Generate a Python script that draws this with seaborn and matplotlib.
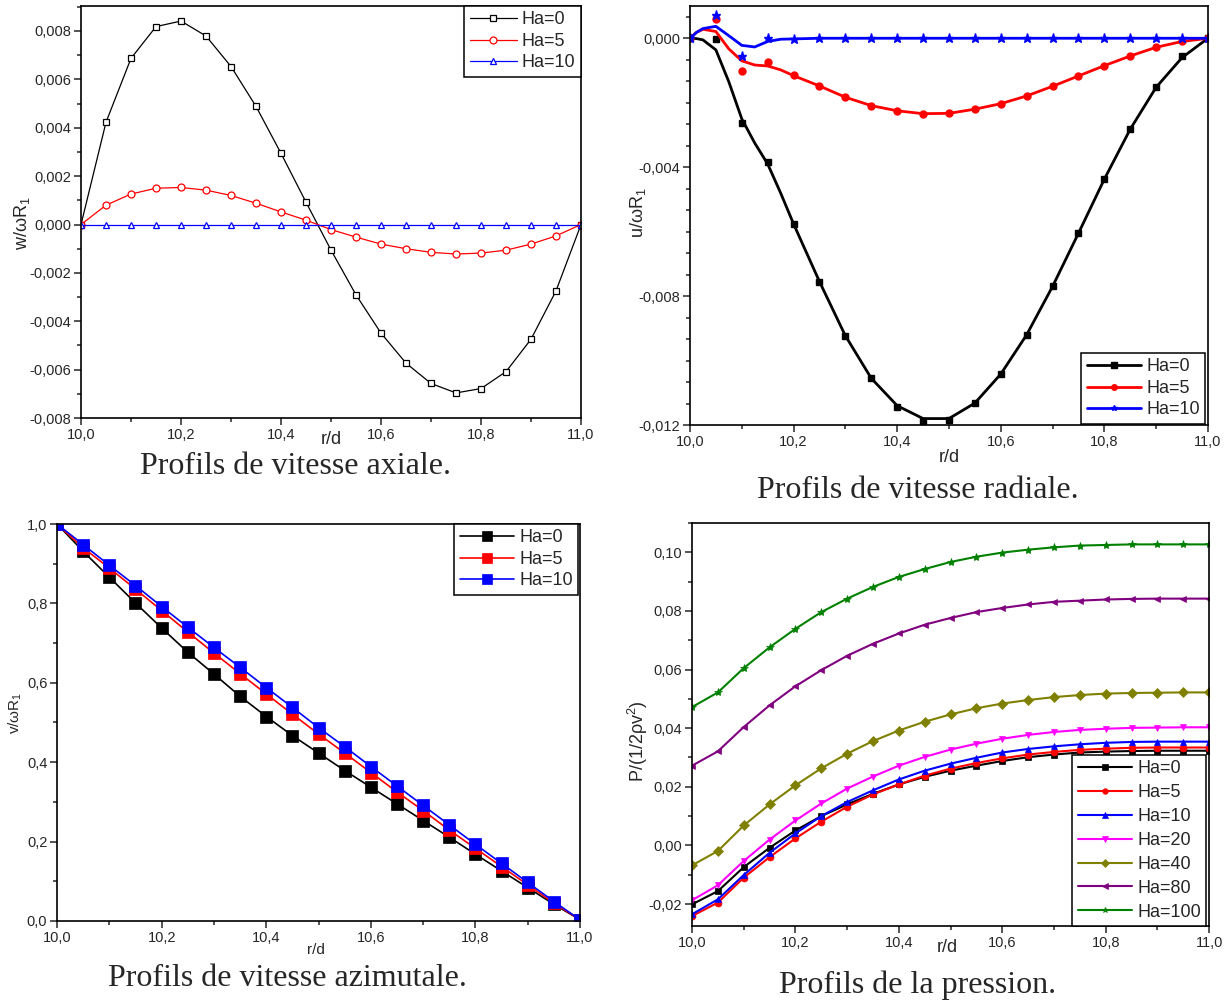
import seaborn as sns
import matplotlib
matplotlib.use("Agg")
import matplotlib.pyplot as plt
from matplotlib.ticker import MultipleLocator, FuncFormatter, AutoMinorLocator
from matplotlib.lines import Line2D

sns.set_style('ticks')
plt.rcParams['font.family'] = ['Liberation Sans', 'DejaVu Sans']
plt.rcParams['mathtext.fontset'] = 'custom'
plt.rcParams['mathtext.rm'] = 'Liberation Sans'
plt.rcParams['mathtext.it'] = 'Liberation Sans:italic'

# positions radiales r/d
r = [10.0, 10.05, 10.1, 10.15, 10.2, 10.25, 10.3, 10.35, 10.4, 10.45, 10.5,
     10.55, 10.6, 10.65, 10.7, 10.75, 10.8, 10.85, 10.9, 10.95, 11.0]

# vitesse axiale w/wR1 (x1e-3)
w_ha0 = [0, 4.23, 6.87, 8.18, 8.41, 7.79, 6.53, 4.88, 2.94, 0.92, -1.06,
         -2.91, -4.49, -5.73, -6.57, -6.96, -6.78, -6.08, -4.74, -2.74, 0]
w_ha5 = [0, 0.80, 1.26, 1.50, 1.53, 1.42, 1.20, 0.88, 0.52, 0.18, -0.21,
         -0.52, -0.81, -1.00, -1.15, -1.22, -1.18, -1.06, -0.81, -0.47, 0]
w_ha10 = [0] * 21

# vitesse radiale u/wR1 (x1e-3), points
u_ha0 = [0, -0.03, -2.64, -3.83, -5.76, -7.55, -9.23, -10.55, -11.45, -11.87, -11.84,
         -11.32, -10.42, -9.20, -7.70, -6.05, -4.37, -2.82, -1.52, -0.55, 0]
u_ha5 = [0, 0.60, -1.01, -0.74, -1.15, -1.48, -1.83, -2.09, -2.25, -2.34, -2.33,
         -2.20, -2.03, -1.79, -1.49, -1.17, -0.85, -0.55, -0.28, -0.10, 0]
u_ha10 = [0, 0.72, -0.55, 0, -0.03, 0.02, 0, 0, 0, 0, 0,
          0, 0, 0, 0, 0, 0, 0, 0, 0, 0]
# courbes lissees
u_curve_r = [10.0, 10.0125, 10.025, 10.05, 10.075, 10.1, 10.125, 10.15, 10.175, 10.2,
             10.25, 10.3, 10.35, 10.4, 10.45, 10.5, 10.55, 10.6, 10.65, 10.7,
             10.75, 10.8, 10.85, 10.9, 10.95, 11.0]
u_curve_ha0 = [0, -0.01, -0.05, -0.36, -1.35, -2.50, -3.25, -3.90, -4.80, -5.76,
               -7.55, -9.23, -10.55, -11.40, -11.80, -11.80, -11.32, -10.42, -9.20, -7.70,
               -6.05, -4.37, -2.82, -1.52, -0.60, 0]
u_curve_ha5 = [0, 0.18, 0.28, 0.21, -0.33, -0.70, -0.83, -0.86, -0.98, -1.16,
               -1.48, -1.83, -2.09, -2.25, -2.34, -2.33, -2.20, -2.03, -1.79, -1.49,
               -1.17, -0.85, -0.55, -0.28, -0.10, 0]
u_curve_ha10 = [0, 0.18, 0.30, 0.37, 0.08, -0.22, -0.27, -0.10, -0.03, -0.02,
                0, 0, 0, 0, 0, 0, 0, 0, 0, 0,
                0, 0, 0, 0, 0, 0]

# vitesse azimutale v/wR1
v_ha0 = [1.0, 0.931, 0.866, 0.801, 0.738, 0.677, 0.622, 0.566, 0.515, 0.467, 0.423,
         0.379, 0.337, 0.295, 0.253, 0.211, 0.168, 0.126, 0.084, 0.042, 0.003]
v_ha5 = [1.0, 0.940, 0.889, 0.836, 0.782, 0.728, 0.675, 0.623, 0.572, 0.521, 0.471,
         0.423, 0.374, 0.325, 0.278, 0.229, 0.183, 0.137, 0.091, 0.045, 0.003]
v_ha10 = [1.0, 0.948, 0.896, 0.845, 0.792, 0.740, 0.689, 0.639, 0.588, 0.538, 0.487,
          0.439, 0.389, 0.340, 0.291, 0.242, 0.193, 0.145, 0.097, 0.049, 0.003]

# pression P/(1/2 rho v^2) (x1e-3)
p_labels = ['Ha=0', 'Ha=5', 'Ha=10', 'Ha=20', 'Ha=40', 'Ha=80', 'Ha=100']
p_ha0 = [-20.1, -15.6, -7.4, -0.8, 5.1, 10.0, 14.0, 17.6, 20.8, 23.4, 25.5,
         27.2, 28.8, 30.1, 31.0, 31.7, 32.0, 32.2, 32.3, 32.3, 32.3]
p_ha5 = [-24.1, -19.5, -11.0, -4.0, 2.4, 8.1, 13.2, 17.4, 20.8, 23.8, 26.2,
         28.1, 29.7, 31.0, 31.9, 32.6, 33.0, 33.3, 33.4, 33.4, 33.4]
p_ha10 = [-23.5, -18.4, -10.1, -2.5, 4.1, 10.0, 14.8, 18.8, 22.5, 25.5, 27.9,
          29.9, 31.7, 32.9, 33.8, 34.5, 35.0, 35.3, 35.4, 35.4, 35.4]
p_ha20 = [-18.7, -13.6, -5.3, 2.0, 8.5, 14.3, 19.4, 23.5, 27.2, 30.2, 32.7,
          34.7, 36.4, 37.7, 38.7, 39.4, 39.8, 40.1, 40.2, 40.3, 40.3]
p_ha40 = [-6.8, -1.9, 6.8, 14.0, 20.5, 26.3, 31.3, 35.6, 39.2, 42.2, 44.7,
          46.8, 48.4, 49.6, 50.6, 51.3, 51.8, 52.0, 52.1, 52.2, 52.2]
p_ha80 = [27.2, 32.1, 40.4, 47.8, 54.3, 59.8, 64.7, 68.8, 72.3, 75.3, 77.6,
          79.6, 81.0, 82.2, 83.1, 83.5, 83.9, 84.1, 84.2, 84.2, 84.2]
p_ha100 = [47.2, 52.2, 60.5, 67.6, 73.9, 79.6, 84.2, 88.2, 91.6, 94.3, 96.7,
           98.5, 99.9, 100.9, 101.7, 102.3, 102.5, 102.7, 102.7, 102.7, 102.7]

fig = plt.figure(figsize=(12.24, 10.05), dpi=100)


def comma(fmt):
    return FuncFormatter(lambda v, p: fmt.format(round(v, 6) + 0.0).replace('.', ','))


def style_axes(ax, yfmt, xlim=(10.0, 11.0)):
    ax.set_xlim(*xlim)
    ax.xaxis.set_major_locator(MultipleLocator(0.2))
    ax.xaxis.set_minor_locator(MultipleLocator(0.1))
    ax.xaxis.set_major_formatter(comma('{:.1f}'))
    ax.yaxis.set_major_formatter(comma(yfmt))
    ax.tick_params(which='both', direction='out', top=False, right=False,
                   width=1.1, labelsize=10.5, pad=2)
    ax.tick_params(which='major', length=5)
    ax.tick_params(which='minor', length=3)
    for s in ax.spines.values():
        s.set_visible(True)
        s.set_linewidth(1.2)
        s.set_color('black')


def box_legend(ax, handles=None, spacing=0.25, **kw):
    leg = ax.legend(handles=handles, frameon=True, fancybox=False, edgecolor='black',
                    framealpha=1, fontsize=13, handletextpad=0.3, borderpad=0.3,
                    labelspacing=spacing, borderaxespad=0, **kw)
    leg.get_frame().set_linewidth(1.1)
    return leg


# ---- Profils de vitesse axiale
ax1 = fig.add_axes([0.0662, 0.584, 0.4085, 0.410])
for y, c, m, lab in [(w_ha0, 'black', 's', 'Ha=0'), (w_ha5, 'red', 'o', 'Ha=5'),
                     (w_ha10, 'blue', '^', 'Ha=10')]:
    sns.lineplot(x=r, y=[v * 1e-3 for v in y], color=c, lw=0.9, marker=m, markersize=5,
                 markerfacecolor='white', markeredgecolor=c, markeredgewidth=0.9,
                 label=lab, ax=ax1)
ax1.set_ylim(-0.008, 0.00903)
ax1.yaxis.set_major_locator(MultipleLocator(0.002))
ax1.yaxis.set_minor_locator(MultipleLocator(0.001))
style_axes(ax1, '{:.3f}')
box_legend(ax1, loc='upper right', handlelength=2.6)
ax1.set_xlabel('r/d', fontsize=13)
ax1.xaxis.set_label_coords(0.5, -0.032)
ax1.set_ylabel('w/ωR$_1$', fontsize=13)
ax1.yaxis.set_label_coords(-0.098, 0.473)

# ---- Profils de vitesse radiale
ax2 = fig.add_axes([0.5637, 0.5771, 0.4232, 0.4169])
u_sets = [(u_curve_ha0, u_ha0, 'black', 's', 'Ha=0'),
          (u_curve_ha5, u_ha5, 'red', 'o', 'Ha=5'),
          (u_curve_ha10, u_ha10, 'blue', '*', 'Ha=10')]
handles = []
for yc, yp, c, m, lab in u_sets:
    sns.lineplot(x=u_curve_r, y=[v * 1e-3 for v in yc], color=c, lw=2.0, ax=ax2)
    ax2.plot(r, [v * 1e-3 for v in yp], ls='none', marker=m, color=c,
             markersize=5 if m != '*' else 6.5, markeredgecolor=c)
    handles.append(Line2D([], [], color=c, lw=2.0, marker=m, markersize=4, label=lab))
ax2.set_ylim(-0.012, 0.001)
ax2.yaxis.set_major_locator(MultipleLocator(0.004))
ax2.yaxis.set_minor_locator(AutoMinorLocator(6))
style_axes(ax2, '{:.3f}')
box_legend(ax2, handles=handles, loc='lower right', handlelength=3.0,
           bbox_to_anchor=(0.995, 0.003))
ax2.set_xlabel('r/d', fontsize=13)
ax2.xaxis.set_label_coords(0.5, -0.058)
ax2.set_ylabel('u/ωR$_1$', fontsize=13)
ax2.yaxis.set_label_coords(-0.081, 0.506)

# ---- Profils de vitesse azimutale
ax3 = fig.add_axes([0.0466, 0.0836, 0.4273, 0.395])
for y, c, lab in [(v_ha0, 'black', 'Ha=0'), (v_ha5, 'red', 'Ha=5'), (v_ha10, 'blue', 'Ha=10')]:
    sns.lineplot(x=r, y=y, color=c, lw=1.2, marker='s', markersize=8,
                 markerfacecolor=c, markeredgecolor=c, markeredgewidth=0.5,
                 label=lab, ax=ax3)
ax3.set_ylim(0, 1.0)
ax3.yaxis.set_major_locator(MultipleLocator(0.2))
ax3.yaxis.set_minor_locator(MultipleLocator(0.1))
style_axes(ax3, '{:.1f}')
leg3 = box_legend(ax3, loc='upper right', handlelength=3.0, bbox_to_anchor=(0.997, 1.0))
for h in leg3.legend_handles:
    h.set_markersize(7)
ax3.set_xlabel('r/d', fontsize=11)
ax3.xaxis.set_label_coords(0.495, -0.055)
ax3.set_ylabel('v/ωR$_1$', fontsize=11)
ax3.yaxis.set_label_coords(-0.063, 0.524)

# ---- Profils de la pression
ax4 = fig.add_axes([0.5654, 0.0786, 0.4224, 0.401])
p_series = [p_ha0, p_ha5, p_ha10, p_ha20, p_ha40, p_ha80, p_ha100]
p_colors = ['black', 'red', 'blue', 'magenta', '#808000', '#800080', '#008000']
p_markers = ['s', 'o', '^', 'v', 'D', '<', '*']
for y, c, m, lab in zip(p_series, p_colors, p_markers, p_labels):
    sns.lineplot(x=r, y=[v * 1e-3 for v in y], color=c, lw=1.5, marker=m,
                 markersize=5 if m != '*' else 6, markerfacecolor=c, markeredgecolor=c,
                 markeredgewidth=0.5, label=lab, ax=ax4)
ax4.set_ylim(-0.0275, 0.11)
ax4.yaxis.set_major_locator(MultipleLocator(0.02))
ax4.yaxis.set_minor_locator(MultipleLocator(0.01))
style_axes(ax4, '{:.2f}')
leg4 = box_legend(ax4, loc='lower right', handlelength=3.0, spacing=0.38,
                  bbox_to_anchor=(0.995, 0.0))
for h in leg4.legend_handles:
    h.set_markersize(4)
ax4.set_xlabel('r/d', fontsize=13)
ax4.xaxis.set_label_coords(0.493, -0.032)
ax4.set_ylabel('P/(1/2ρv$^2$)', fontsize=13)
ax4.yaxis.set_label_coords(-0.081, 0.46)

# legendes des figures
cap = dict(ha='center', va='center', fontsize=23, family=['Liberation Serif', 'DejaVu Serif'])
fig.text(296 / 1224, 1 - 466 / 1005, 'Profils de vitesse axiale.', **cap)
fig.text(918 / 1224, 1 - 490 / 1005, 'Profils de vitesse radiale.', **cap)
fig.text(287 / 1224, 1 - 978 / 1005, 'Profils de vitesse azimutale.', **cap)
fig.text(918 / 1224, 1 - 985 / 1005, 'Profils de la pression.', **cap)

fig.savefig('out.png', dpi=100)
